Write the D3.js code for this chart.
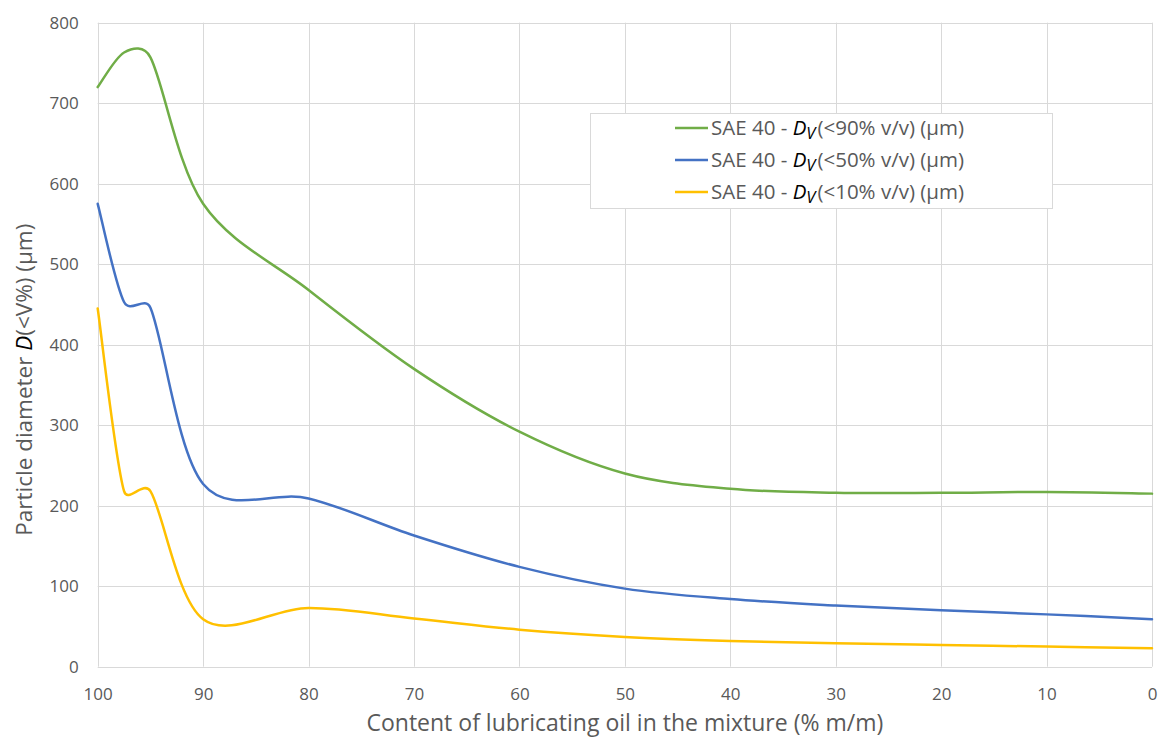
<!DOCTYPE html>
<html>
<head>
<meta charset="utf-8">
<script src="https://cdn.jsdelivr.net/npm/d3@7"></script>
<style>
  html, body { margin: 0; padding: 0; background: #fff; }
  svg { display: block; font-family: "Open Sans", "Noto Sans", sans-serif; }
</style>
</head>
<body>
<svg id="chart" width="1158" height="738"></svg>
<script>
// ---- data ----
const oilContent = [100, 97.5, 95, 90, 80, 70, 60, 50, 40, 30, 20, 10, 0];
const d90 = [720, 763, 757, 575, 468, 370, 292, 240, 221, 216, 216, 217, 215];
const d50 = [575, 453, 446, 227, 209, 163, 124, 97, 84, 76, 70, 65, 59];
const d10 = [445, 218, 218, 59, 73, 60, 46, 37, 32, 29, 27, 25, 23];
const xTicks = [100, 90, 80, 70, 60, 50, 40, 30, 20, 10, 0];
const yTicks = [0, 100, 200, 300, 400, 500, 600, 700, 800];
const seriesNames = ["(<90% v/v) (µm)", "(<50% v/v) (µm)", "(<10% v/v) (µm)"];
const seriesColors = ["#70ad47", "#4472c4", "#ffc000"];

(function () {
const series = [d90, d50, d10].map((vals, i) => ({
  name: seriesNames[i], color: seriesColors[i],
  points: oilContent.map((x, j) => ({ x, y: vals[j] }))
}));

// Spreadsheet-style smoothed line: cubic Bezier with 1/6 tangent arms,
// limited to half the segment length.
function smoothCurve(context) {
  let pts;
  const dist = (a, b) => Math.hypot(b[0] - a[0], b[1] - a[1]);
  return {
    areaStart() {}, areaEnd() {},
    lineStart() { pts = []; },
    point(x, y) { pts.push([+x, +y]); },
    lineEnd() {
      const n = pts.length;
      if (!n) return;
      context.moveTo(pts[0][0], pts[0][1]);
      for (let i = 0; i < n - 1; i++) {
        const p0 = pts[Math.max(i - 1, 0)], p1 = pts[i], p2 = pts[i + 1], p3 = pts[Math.min(i + 2, n - 1)];
        const d12 = dist(p1, p2), d02 = dist(p0, p2), d13 = dist(p1, p3);
        let f1 = 1 / 6, f2 = 1 / 6;
        if (d02 / 6 >= d12 / 2) f1 = d02 > 0 ? d12 / (2 * d02) : 0;
        if (d13 / 6 >= d12 / 2) f2 = d13 > 0 ? d12 / (2 * d13) : 0;
        const c1 = [p1[0] + f1 * (p2[0] - p0[0]), p1[1] + f1 * (p2[1] - p0[1])];
        const c2 = [p2[0] - f2 * (p3[0] - p1[0]), p2[1] - f2 * (p3[1] - p1[1])];
        context.bezierCurveTo(c1[0], c1[1], c2[0], c2[1], p2[0], p2[1]);
      }
    }
  };
}

const svg = d3.select("#chart");
const pLeft = 97.7, pRight = 1152, pTop = 22.7, pBottom = 666.7;
const x = d3.scaleLinear().domain([100, 0]).range([pLeft, pRight]);
const y = d3.scaleLinear().domain([0, 800]).range([pBottom, pTop]);
const textColor = "#595959";
const gridColor = "#d9d9d9";

// gridlines
const grid = svg.append("g");
grid.selectAll("line.h").data(yTicks).join("line")
  .attr("x1", pLeft).attr("x2", pRight)
  .attr("y1", d => Math.round(y(d)) + 0.5).attr("y2", d => Math.round(y(d)) + 0.5)
  .attr("stroke", gridColor).attr("stroke-width", 1);
grid.selectAll("line.v").data(xTicks).join("line")
  .attr("y1", pTop).attr("y2", pBottom)
  .attr("x1", d => Math.round(x(d)) + 0.5).attr("x2", d => Math.round(x(d)) + 0.5)
  .attr("stroke", gridColor).attr("stroke-width", 1);

// axes (labels only)
const xAxis = svg.append("g").attr("transform", `translate(0,${pBottom})`)
  .call(d3.axisBottom(x).tickValues(xTicks).tickSize(0).tickPadding(21));
xAxis.select(".domain").remove();
xAxis.selectAll("text").attr("fill", textColor).style("font-size", "17px")
  .style("font-family", "'Open Sans', sans-serif");

const yAxis = svg.append("g").attr("transform", `translate(${pLeft},0)`)
  .call(d3.axisLeft(y).tickValues(yTicks).tickSize(0).tickPadding(19));
yAxis.select(".domain").remove();
yAxis.selectAll("text").attr("fill", textColor).style("font-size", "17px")
  .style("font-family", "'Open Sans', sans-serif");

// lines
const line = d3.line().x(d => x(d.x)).y(d => y(d.y)).curve(smoothCurve);
svg.append("g").selectAll("path").data(series).join("path")
  .attr("d", d => line(d.points))
  .attr("fill", "none").attr("stroke", d => d.color)
  .attr("stroke-width", 2.5).attr("stroke-linejoin", "round").attr("stroke-linecap", "round");

// axis titles
svg.append("text")
  .attr("x", (pLeft + pRight) / 2).attr("y", 731)
  .attr("text-anchor", "middle").attr("fill", textColor)
  .style("font-size", "23px")
  .text("Content of lubricating oil in the mixture (% m/m)");

const yt = svg.append("text")
  .attr("transform", `translate(32,${(pTop + pBottom) / 2 + 35}) rotate(-90)`)
  .attr("text-anchor", "middle").attr("fill", textColor)
  .style("font-size", "22.5px");
yt.append("tspan").text("Particle diameter ");
yt.append("tspan").attr("font-style", "italic").attr("fill", "#000").text("D");
yt.append("tspan").text("(<V%) (µm)");

// legend
const lg = svg.append("g");
lg.append("rect").attr("x", 590.5).attr("y", 113.5).attr("width", 462).attr("height", 95)
  .attr("fill", "#fff").attr("stroke", gridColor).attr("stroke-width", 1);
const rowY = [128, 160, 192];
series.forEach((s, i) => {
  lg.append("line").attr("x1", 675).attr("x2", 708)
    .attr("y1", rowY[i]).attr("y2", rowY[i])
    .attr("stroke", s.color).attr("stroke-width", 2.5);
  const t = lg.append("text").attr("x", 711).attr("y", rowY[i] + 7)
    .attr("fill", textColor).style("font-size", "20.5px");
  t.append("tspan").text("SAE 40 - ");
  t.append("tspan").attr("font-style", "italic").attr("fill", "#000").text("D");
  t.append("tspan").attr("font-style", "italic").attr("fill", "#000")
    .attr("dy", 4).style("font-size", "16.5px").text("V");
  t.append("tspan").attr("dy", -4).attr("dx", 2).text(s.name);
});
})();
</script>
</body>
</html>
